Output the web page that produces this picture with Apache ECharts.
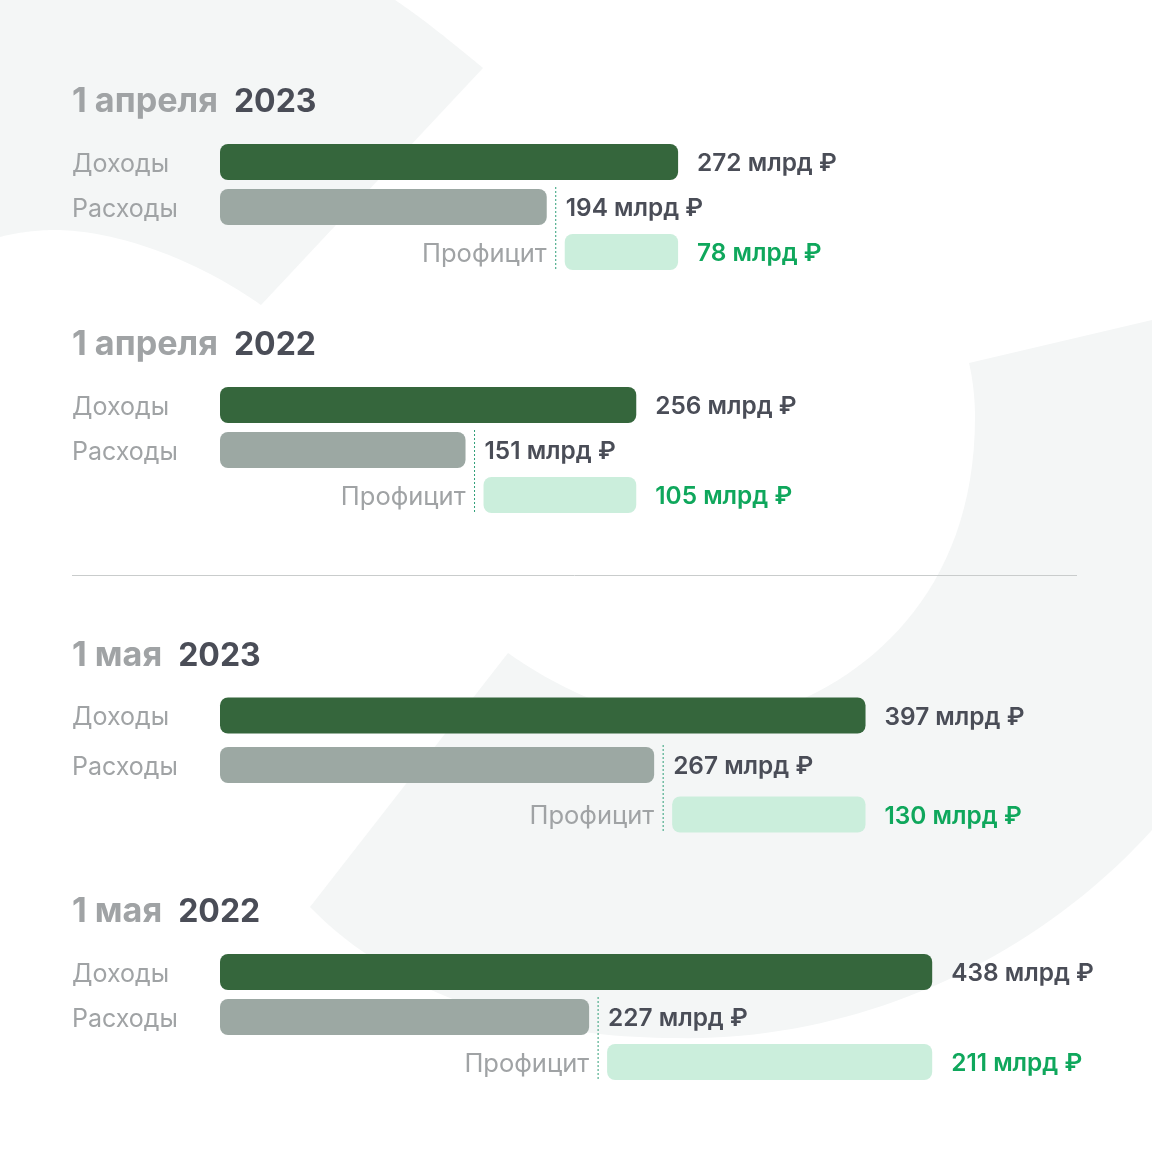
<!DOCTYPE html>
<html>
<head>
<meta charset="utf-8">
<title>Доходы и расходы</title>
<script src="https://cdn.jsdelivr.net/npm/echarts@6/dist/echarts.min.js"></script>
<style>
    html, body { margin: 0; padding: 0; background: #fff; }
    #chart { width: 1152px; height: 1152px; }
</style>
</head>
<body>
<div id="chart"></div>
<script>
var dates = ['1 апреля', '1 апреля', '1 мая', '1 мая'];
var years = ['2023', '2022', '2023', '2022'];
var rows = ['Доходы', 'Расходы', 'Профицит'];
var incomes = [272, 256, 397, 438];
var expenses = [194, 151, 267, 227];
var profits = [78, 105, 130, 211];
var axisMax = [475, 492, 492, 492];

// layout of the four blocks, px
var gridTops = [139.5, 382.5, 690.75, 949.5];
var gridHeights = [135, 135, 148.5, 135];
var titleCenters = [100, 343, 654, 910];

var FONT = 'Inter';
var DARK = '#4a4d57';
var GREY = '#a0a3a5';
var GREEN_TEXT = '#0fa75c';

function valueLabel(v) {
    return v + ' млрд ₽';
}

// flatten a cubic bezier into polygon points (background shapes only)
function curve(p0, c1, c2, p1) {
    var pts = [];
    for (var k = 0; k <= 40; k++) {
        var t = k / 40, u = 1 - t;
        pts.push([
            u * u * u * p0[0] + 3 * u * u * t * c1[0] + 3 * u * t * t * c2[0] + t * t * t * p1[0],
            u * u * u * p0[1] + 3 * u * u * t * c1[1] + 3 * u * t * t * c2[1] + t * t * t * p1[1]
        ]);
    }
    return pts;
}

var topShape = [[0, 0], [395, 0]]
    .concat(curve([395, 0], [425, 20], [455, 45], [483, 68]))
    .concat(curve([261, 305], [190, 255], [110, 230], [55, 230]))
    .concat(curve([55, 230], [35, 230], [15, 233], [0, 237]));

var bottomShape = [[969, 363], [1152, 320], [1152, 830]]
    .concat(curve([1152, 830], [1030, 965], [850, 1042], [675, 1038]))
    .concat(curve([675, 1038], [540, 1038], [400, 1000], [310, 907]))
    .concat(curve([508, 653], [560, 690], [620, 715], [690, 728]))
    .concat(curve([690, 728], [800, 722], [975, 640], [975, 417]))
    .concat(curve([975, 417], [975, 400], [973, 380], [969, 363]));

function profitRender(i) {
    return function (params, api) {
        var row = api.coord([0, 2])[1];
        var rowExp = api.coord([0, 1])[1];
        var xExp = api.coord([expenses[i], 0])[0];
        var xInc = api.coord([incomes[i], 0])[0];
        return {
            type: 'group',
            children: [{
                type: 'rect',
                shape: { x: xExp + 18, y: row - 18, width: xInc - xExp - 18, height: 36, r: 8 },
                style: { fill: '#cbeedc' }
            }, {
                type: 'line',
                shape: { x1: xExp + 9, y1: rowExp - 20, x2: xExp + 9, y2: row + 18 },
                style: { stroke: '#2f9f78', lineWidth: 1, lineDash: [2, 2] }
            }, {
                type: 'text',
                style: {
                    text: rows[2], x: xExp, y: row + 2, align: 'right', verticalAlign: 'middle',
                    fill: GREY, font: '400 25.5px ' + FONT
                }
            }, {
                type: 'text',
                style: {
                    text: valueLabel(profits[i]), x: xInc + 19, y: row + 2, align: 'left', verticalAlign: 'middle',
                    fill: GREEN_TEXT, font: '600 24.4px ' + FONT
                }
            }]
        };
    };
}

var option = {
    animation: false,
    backgroundColor: '#fff',
    textStyle: { fontFamily: FONT },
    graphic: [{
        type: 'polygon',
        z: 0,
        shape: { points: topShape },
        style: { fill: '#f4f6f6' }
    }, {
        type: 'polygon',
        z: 0,
        shape: { points: bottomShape },
        style: { fill: '#f4f6f6' }
    }, {
        type: 'line',
        z: 1,
        shape: { x1: 72, y1: 575.5, x2: 1077, y2: 575.5 },
        style: { stroke: '#c9cccc', lineWidth: 1 }
    }],
    title: [],
    grid: [],
    xAxis: [],
    yAxis: [],
    series: []
};

dates.forEach(function (date, i) {
    option.title.push({
        left: 72,
        top: titleCenters[i] - 20,
        padding: 0,
        text: '{a|' + date + '}{b|' + years[i] + '}',
        textStyle: {
            rich: {
                a: { fontFamily: FONT, fontSize: 34.2, fontWeight: 700, color: GREY, lineHeight: 44 },
                b: { fontFamily: FONT, fontSize: 32, fontWeight: 700, color: DARK, lineHeight: 44, padding: [0, 0, 0, 16] }
            }
        }
    });
    option.grid.push({ left: 220, width: 800, top: gridTops[i], height: gridHeights[i] });
    option.xAxis.push({ gridIndex: i, type: 'value', min: 0, max: axisMax[i], show: false });
    option.yAxis.push({
        gridIndex: i,
        type: 'category',
        inverse: true,
        data: rows,
        axisLine: { show: false },
        axisTick: { show: false },
        axisLabel: {
            margin: 148,
            align: 'left',
            formatter: function (v) { return v === rows[2] ? '' : '{l|' + v + '}'; },
            rich: {
                l: { color: GREY, fontFamily: FONT, fontSize: 25, padding: [4, 0, 0, 0] }
            }
        }
    });
    option.series.push({
        type: 'bar',
        xAxisIndex: i,
        yAxisIndex: i,
        barWidth: 36,
        data: [
            { value: incomes[i], itemStyle: { color: '#35663c', borderRadius: 8 } },
            { value: expenses[i], itemStyle: { color: '#9ca8a3', borderRadius: 8 } },
            '-'
        ],
        label: {
            show: true,
            position: 'right',
            distance: 19,
            offset: [0, 2],
            color: DARK,
            fontFamily: FONT,
            fontSize: 24.4,
            fontWeight: 600,
            formatter: function (p) { return valueLabel(p.value); }
        }
    });
    option.series.push({
        type: 'custom',
        xAxisIndex: i,
        yAxisIndex: i,
        data: [[profits[i], 2]],
        encode: { x: 0, y: 1 },
        clip: false,
        renderItem: profitRender(i)
    });
});

var chart = echarts.init(document.getElementById('chart'), null, { renderer: 'canvas' });
chart.setOption(option);
</script>
</body>
</html>
